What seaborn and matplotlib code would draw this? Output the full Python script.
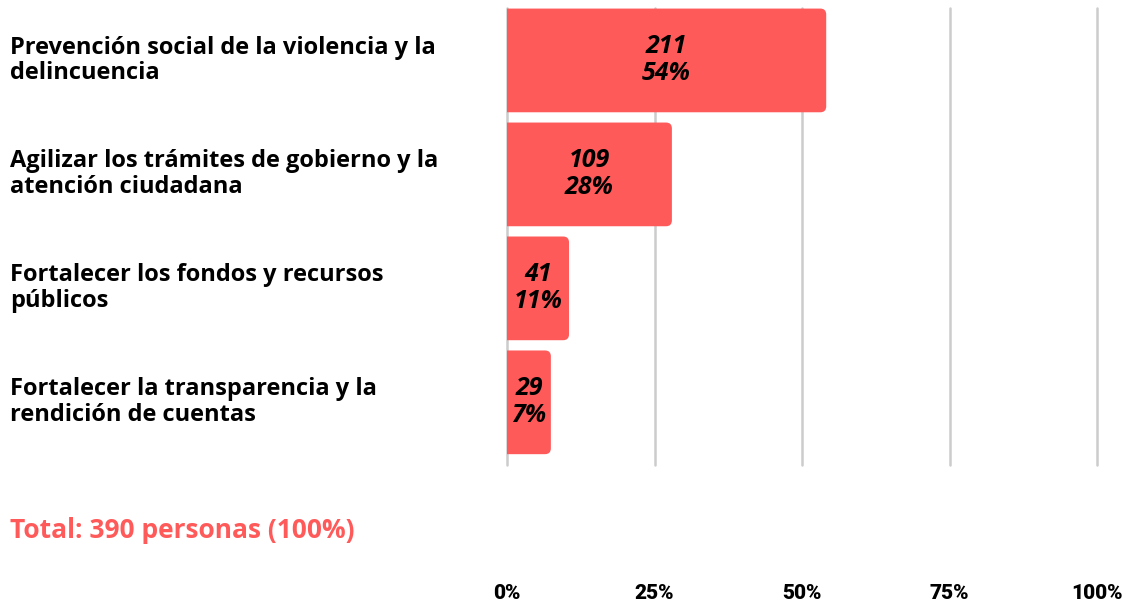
import numpy as np
import pandas as pd
import matplotlib
matplotlib.use("Agg")
import matplotlib.pyplot as plt
import matplotlib.transforms as mtransforms
from matplotlib.patches import FancyBboxPatch
import seaborn as sns

categories = ["Prevención social de la violencia y la\ndelincuencia",
              "Agilizar los trámites de gobierno y la\natención ciudadana",
              "Fortalecer los fondos y recursos\npúblicos",
              "Fortalecer la transparencia y la\nrendición de cuentas"]
counts = [211, 109, 41, 29]
total = 390
ticks = [0, 25, 50, 75, 100]
tick_labels = ["0%", "25%", "50%", "75%", "100%"]

red = "#FF5A5A"

df = pd.DataFrame({"cat": categories, "n": counts})
df["pct"] = df["n"] / total * 100

sns.set_theme(style="white")
plt.rcParams["font.family"] = ["Open Sans", "DejaVu Sans"]

fig = plt.figure(figsize=(11.32, 6.07), dpi=100)
ax = fig.add_axes([507 / 1132, 1 - 465 / 607, 590 / 1132, 457 / 607])

sns.barplot(data=df, x="pct", y="cat", color=red, width=0.91, ax=ax,
            saturation=1, zorder=2)

ax.set_xlim(0, 100)
ax.set_ylim(3.55, -0.46)
ax.set_xticks(ticks)
ax.set_xticklabels(tick_labels, fontsize=15, fontweight="black",
                   color="black", family=["Roboto", "DejaVu Sans"])
ax.tick_params(axis="x", length=0, pad=86)
ax.set_yticks([])
ax.set_xlabel("")
ax.set_ylabel("")
for s in ax.spines.values():
    s.set_visible(False)
ax.grid(False)
for t in ticks:
    ax.axvline(t, color="#cccccc", lw=1.8, zorder=0, clip_on=False)

# rounded right corners (left corners pushed outside the axes and clipped)
fig.canvas.draw()
pp = ax.transData.transform((1, 0)) - ax.transData.transform((0, 0))
pq = ax.transData.transform((0, 1)) - ax.transData.transform((0, 0))
aspect = abs(pq[1]) / abs(pp[0])
rounding = 1.0  # data units in x
for p in list(ax.patches):
    x, y, w, h = p.get_x(), p.get_y(), p.get_width(), p.get_height()
    p.remove()
    fb = FancyBboxPatch((x - 2 * rounding, y), w + 2 * rounding, h,
                        boxstyle=f"round,pad=0,rounding_size={rounding}",
                        mutation_aspect=1 / aspect, fc=red, ec="none", zorder=2)
    ax.add_patch(fb)

for i, row in df.iterrows():
    ax.text(row["pct"] / 2, i, f"{row['n']}\n{round(row['pct'])}%",
            ha="center", va="center", fontsize=18, fontweight="bold",
            fontstyle="italic", color="black", linespacing=1.1, zorder=3)

trans = mtransforms.blended_transform_factory(fig.transFigure, ax.transData)
for i, c in enumerate(categories):
    ax.text(10 / 1132, i, c, transform=trans, ha="left", va="center",
            fontsize=17, fontweight="bold", color="black", linespacing=1.1)

fig.text(10 / 1132, 1 - 530 / 607, f"Total: {total} personas (100%)",
         ha="left", va="center", fontsize=19, fontweight="bold", color=red)

fig.savefig("out.png", dpi=100)
